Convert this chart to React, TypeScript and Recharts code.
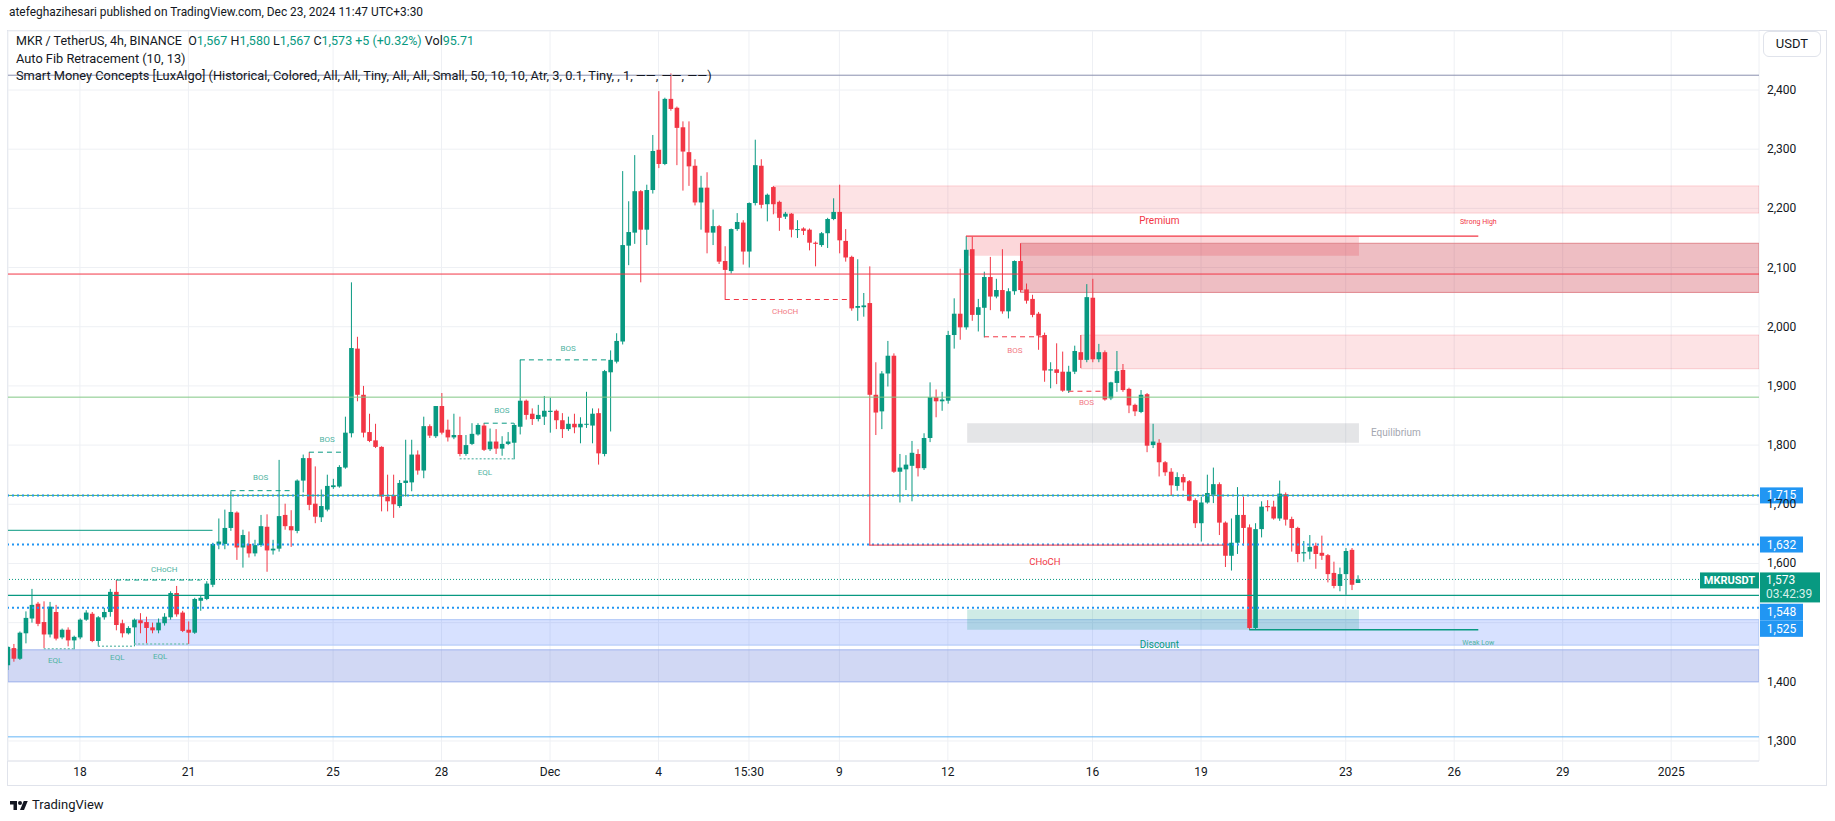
import React from 'react';
import { ComposedChart, Bar, XAxis, YAxis, CartesianGrid, ReferenceLine, ReferenceArea, ReferenceDot } from 'recharts';

const UP = '#089981';
const DOWN = '#f23645';
const FONT = 'Roboto, "Liberation Sans", sans-serif';

// MKR/USDT 4h bars, index 0 = Nov 16 03:30 (UTC+3:30)
const opens = [
  1428, 1457, 1439, 1482, 1507, 1532, 1501, 1480, 1518, 1475, 1488, 1470, 1475, 1505, 1515, 1469, 1509, 1518, 1552, 1499,
  1482, 1492, 1504, 1501, 1492, 1487, 1499, 1509, 1550, 1517, 1488, 1483, 1537, 1540, 1564, 1632, 1633, 1660, 1686, 1627,
  1633, 1617, 1631, 1662, 1622, 1625, 1682, 1663, 1655, 1740, 1778, 1701, 1678, 1691, 1729, 1730, 1762, 1820, 1963, 1885,
  1822, 1808, 1797, 1713, 1714, 1697, 1736, 1737, 1784, 1757, 1832, 1815, 1866, 1826, 1813, 1817, 1785, 1802, 1818, 1833,
  1793, 1806, 1794, 1802, 1804, 1831, 1875, 1853, 1844, 1848, 1856, 1858, 1842, 1827, 1836, 1830, 1835, 1833, 1854, 1785,
  1923, 1941, 1975, 2137, 2159, 2229, 2164, 2231, 2299, 2275, 2385, 2370, 2337, 2295, 2272, 2210, 2235, 2159, 2170, 2111,
  2094, 2165, 2176, 2127, 2209, 2272, 2207, 2236, 2211, 2186, 2191, 2164, 2166, 2164, 2142, 2138, 2158, 2182, 2194, 2145,
  2118, 2032, 2033, 2040, 1885, 1857, 1921, 1951, 1755, 1759, 1765, 1785, 1761, 1812, 1881, 1874, 1875, 1986, 2022, 1999,
  2131, 2020, 2032, 2084, 2051, 2062, 2026, 2060, 2111, 2063, 2047, 2022, 1986, 1926, 1928, 1924, 1892, 1924, 1957, 1944,
  2049, 1945, 1957, 1879, 1905, 1927, 1895, 1868, 1856, 1886, 1800, 1804, 1771, 1755, 1731, 1746, 1739, 1707, 1668, 1703,
  1716, 1734, 1669, 1613, 1635, 1682, 1661, 1491, 1658, 1697, 1696, 1676, 1717, 1675, 1660, 1617, 1620, 1630, 1618, 1614,
  1584, 1562, 1582, 1623, 1567,
];
const highs = [
  1460, 1464, 1485, 1519, 1557, 1535, 1536, 1535, 1530, 1490, 1492, 1478, 1507, 1521, 1518, 1511, 1525, 1557, 1572, 1505,
  1494, 1507, 1516, 1510, 1500, 1507, 1516, 1553, 1562, 1520, 1502, 1542, 1545, 1570, 1635, 1676, 1691, 1722, 1688, 1657,
  1654, 1640, 1682, 1683, 1640, 1775, 1701, 1690, 1742, 1784, 1788, 1764, 1725, 1750, 1743, 1766, 1848, 2075, 1983, 1900,
  1853, 1836, 1798, 1750, 1750, 1741, 1809, 1809, 1791, 1848, 1835, 1866, 1888, 1843, 1853, 1848, 1817, 1837, 1837, 1837,
  1828, 1827, 1815, 1822, 1837, 1944, 1877, 1862, 1868, 1883, 1880, 1860, 1854, 1848, 1853, 1847, 1890, 1862, 1862, 1927,
  1960, 1989, 2263, 2212, 2290, 2231, 2240, 2324, 2398, 2387, 2428, 2372, 2347, 2347, 2283, 2255, 2261, 2198, 2172, 2136,
  2166, 2192, 2180, 2210, 2316, 2283, 2225, 2238, 2213, 2194, 2192, 2180, 2168, 2166, 2144, 2160, 2184, 2217, 2240, 2165,
  2120, 2114, 2057, 2102, 1940, 1925, 1976, 1955, 1785, 1783, 1807, 1793, 1820, 1906, 1894, 1890, 1993, 2048, 2098, 2153,
  2152, 2047, 2093, 2118, 2081, 2131, 2065, 2112, 2141, 2073, 2054, 2025, 1990, 1940, 1972, 1958, 1934, 1968, 1986, 2072,
  2081, 1971, 1960, 1907, 1959, 1937, 1897, 1870, 1893, 1888, 1836, 1810, 1773, 1761, 1754, 1751, 1741, 1710, 1713, 1750,
  1762, 1737, 1671, 1676, 1729, 1713, 1666, 1668, 1705, 1707, 1706, 1740, 1720, 1679, 1662, 1638, 1648, 1635, 1647, 1616,
  1603, 1593, 1626, 1626, 1580,
];
const lows = [
  1420, 1434, 1437, 1465, 1500, 1494, 1457, 1475, 1470, 1472, 1460, 1455, 1472, 1503, 1467, 1460, 1505, 1510, 1487, 1475,
  1480, 1460, 1482, 1465, 1482, 1482, 1495, 1505, 1510, 1484, 1464, 1481, 1520, 1538, 1560, 1624, 1624, 1655, 1606, 1593,
  1610, 1612, 1628, 1586, 1615, 1620, 1657, 1628, 1651, 1720, 1690, 1668, 1670, 1688, 1726, 1728, 1760, 1813, 1874, 1813,
  1805, 1795, 1688, 1688, 1677, 1694, 1713, 1722, 1750, 1744, 1812, 1812, 1818, 1806, 1810, 1781, 1782, 1800, 1816, 1790,
  1790, 1785, 1782, 1800, 1776, 1818, 1843, 1834, 1840, 1834, 1821, 1827, 1812, 1824, 1820, 1803, 1829, 1803, 1767, 1781,
  1823, 1938, 1970, 2104, 2140, 2075, 2138, 2225, 2268, 2273, 2365, 2273, 2230, 2238, 2205, 2164, 2124, 2138, 2106, 2046,
  2090, 2162, 2105, 2100, 2205, 2200, 2178, 2190, 2162, 2182, 2151, 2150, 2155, 2129, 2102, 2135, 2133, 2180, 2124, 2110,
  2027, 2010, 2017, 1630, 1817, 1827, 1899, 1753, 1703, 1724, 1705, 1747, 1758, 1805, 1847, 1858, 1870, 1963, 1978, 1995,
  2010, 1992, 1982, 2028, 2048, 2022, 2014, 2054, 2058, 2039, 2016, 1961, 1907, 1896, 1903, 1890, 1888, 1920, 1930, 1940,
  1940, 1940, 1875, 1876, 1890, 1890, 1854, 1849, 1854, 1788, 1795, 1747, 1748, 1715, 1723, 1723, 1705, 1660, 1637, 1701,
  1702, 1648, 1594, 1588, 1616, 1630, 1488, 1489, 1644, 1688, 1674, 1672, 1664, 1620, 1602, 1603, 1607, 1591, 1606, 1568,
  1558, 1553, 1547, 1555, 1567,
];
const closes = [
  1459, 1439, 1483, 1508, 1530, 1498, 1480, 1527, 1473, 1488, 1470, 1476, 1505, 1517, 1469, 1509, 1518, 1552, 1496, 1482,
  1491, 1505, 1499, 1491, 1487, 1500, 1510, 1550, 1514, 1486, 1483, 1540, 1542, 1566, 1633, 1637, 1660, 1687, 1627, 1648,
  1617, 1631, 1663, 1622, 1625, 1680, 1663, 1656, 1740, 1778, 1699, 1679, 1697, 1731, 1732, 1763, 1821, 1964, 1885, 1821,
  1807, 1797, 1713, 1705, 1700, 1736, 1740, 1784, 1757, 1832, 1816, 1866, 1821, 1813, 1817, 1785, 1800, 1819, 1834, 1792,
  1806, 1794, 1802, 1806, 1834, 1875, 1851, 1844, 1851, 1858, 1858, 1842, 1827, 1836, 1830, 1836, 1836, 1853, 1786, 1925,
  1944, 1976, 2138, 2160, 2229, 2164, 2231, 2297, 2275, 2385, 2368, 2336, 2296, 2271, 2210, 2235, 2159, 2170, 2110, 2096,
  2165, 2177, 2127, 2209, 2273, 2206, 2223, 2207, 2184, 2191, 2164, 2165, 2162, 2142, 2140, 2158, 2182, 2194, 2146, 2117,
  2031, 2035, 2036, 1885, 1855, 1921, 1951, 1755, 1762, 1767, 1787, 1761, 1812, 1881, 1874, 1877, 1986, 2022, 1999, 2130,
  2020, 2033, 2084, 2051, 2062, 2026, 2060, 2111, 2062, 2044, 2020, 1985, 1926, 1928, 1922, 1892, 1924, 1959, 1944, 2050,
  1945, 1957, 1877, 1906, 1925, 1893, 1867, 1857, 1885, 1799, 1806, 1771, 1754, 1732, 1746, 1737, 1706, 1668, 1703, 1719,
  1734, 1669, 1613, 1635, 1682, 1660, 1491, 1658, 1696, 1695, 1676, 1718, 1674, 1660, 1616, 1619, 1628, 1616, 1613, 1582,
  1562, 1582, 1621, 1564, 1573,
];

const xTicks = [12, 30, 54, 72, 90, 108, 123, 138, 156, 180, 198, 222, 240, 258, 276];
const xTickLabels = ['18', '21', '25', '28', 'Dec', '4', '15:30', '9', '12', '16', '19', '23', '26', '29', '2025'];
const yTicks = [1300, 1400, 1500, 1600, 1700, 1800, 1900, 2000, 2100, 2200, 2300, 2400];
// labels covered by the price tags on the scale
const hiddenTicks = [1500];

const X_MIN = 0.07;
const X_MAX = 290.57;
const Y_MIN = 1266.2;
const Y_MAX = 2499.7;

// full-width levels (auto fib + price rays)
const fibLevels = [2425, 2089, 1881, 1715, 1307];
const fibColors = ['#8a8fae', '#f23645', '#81c784', '#4caf50', '#64b5f6'];
const rayLevels = [1715, 1632, 1525];
const lastPrice = 1573;
const prevSwingLevel = 1546;

// structure breaks
const bullBreaks = [
  { price: 1572, from: 18, to: 32 },
  { price: 1723, from: 37, to: 47 },
  { price: 1788, from: 50, to: 56 },
  { price: 1837, from: 79, to: 84 },
  { price: 1944, from: 85, to: 100 },
];
const bearBreaks = [
  { price: 2046, from: 119, to: 140 },
  { price: 1983, from: 162, to: 172 },
  { price: 1891, from: 176, to: 182 },
];
const eqlLines = [
  { price: 1456, from: 6, to: 11 },
  { price: 1460, from: 15, to: 21 },
  { price: 1464, from: 21, to: 30 },
  { price: 1777, from: 75, to: 84 },
];
const oldHighLine = { price: 1656, from: X_MIN, to: 34 };
const chochDown = { price: 1631, from: 143, to: 202 };
const strongHigh = { price: 2153, from: 159, to: 244 };
const weakLow = { price: 1488, from: 206, to: 244 };

// zones
const bearBlocks = [
  { x1: 127.2, x2: X_MAX, y1: 2192, y2: 2238 },
  { x1: 178.1, x2: X_MAX, y1: 1929, y2: 1986 },
];
const bearBlockStrong = { x1: 168.1, x2: X_MAX, y1: 2058, y2: 2141 };
const premiumZone = { x1: 159.2, x2: 224.2, y1: 2120, y2: 2153 };
const equilibriumZone = { x1: 159.2, x2: 224.2, y1: 1804, y2: 1837 };
const discountZone = { x1: 159.2, x2: 224.2, y1: 1488, y2: 1522 };
const blueZoneLight = { x1: 21.3, x2: X_MAX, y1: 1462, y2: 1505 };
const blueZoneDark = { x1: X_MIN, x2: X_MAX, y1: 1400, y2: 1454 };

// text notes
const bullNotes = [
  { t: 'CHoCH', i: 26, p: 1590 },
  { t: 'BOS', i: 42, p: 1745 },
  { t: 'BOS', i: 53, p: 1810 },
  { t: 'BOS', i: 82, p: 1859 },
  { t: 'BOS', i: 93, p: 1964 },
  { t: 'EQL', i: 7.9, p: 1436 },
  { t: 'EQL', i: 18.2, p: 1441 },
  { t: 'EQL', i: 25.3, p: 1443 },
  { t: 'EQL', i: 79.2, p: 1755 },
];
const bearNotes = [
  { t: 'CHoCH', i: 129, p: 2027 },
  { t: 'BOS', i: 167.1, p: 1961 },
  { t: 'BOS', i: 179, p: 1872 },
];

const candles = opens.map((o, i) => ({
  i,
  o,
  h: highs[i],
  l: lows[i],
  c: closes[i],
  range: [lows[i], highs[i]],
}));

const Candle = (props: any) => {
  const { x, y, width, height, payload } = props;
  if (!payload) return null;
  const { o, h, l, c } = payload;
  const color = c >= o ? UP : DOWN;
  const top = Math.min(y, y + height);
  const hh = Math.abs(height);
  const k = hh / Math.max(h - l, 0.0001);
  const bTop = top + (h - Math.max(o, c)) * k;
  const bBot = top + (h - Math.min(o, c)) * k;
  const cx = x + width / 2;
  return (
    <g>
      <line x1={cx} x2={cx} y1={top} y2={top + hh} stroke={color} strokeWidth={1} />
      <rect x={x} y={bTop} width={width} height={Math.max(1, bBot - bTop)} fill={color} />
    </g>
  );
};

const XTick = (props: any) => {
  const { x, payload } = props;
  const idx = xTicks.indexOf(payload.value);
  return (
    <text x={x} y={776} textAnchor="middle" fontSize={12} fill="#131722" fontFamily={FONT}>
      {idx >= 0 ? xTickLabels[idx] : ''}
    </text>
  );
};

const YTick = (props: any) => {
  const { y, payload } = props;
  if (hiddenTicks.includes(payload.value)) return null;
  return (
    <text x={1767} y={y + 4} fontSize={12} fill="#131722" fontFamily={FONT}>
      {payload.value.toLocaleString('en-US')}
    </text>
  );
};

const blueTag = (text: string, shift: number, h: number = 16) => (props: any) => {
  const vb = props.viewBox;
  if (!vb) return null;
  const x0 = vb.x + vb.width + 1;
  const yy = vb.y + shift;
  return (
    <g>
      <rect x={x0} y={yy - 8} width={43} height={h} fill="#2196f3" />
      <text x={x0 + 21.5} y={yy + 4} fontSize={12} fill="#fff" textAnchor="middle" fontFamily={FONT}>
        {text}
      </text>
    </g>
  );
};

const lastTag = (props: any) => {
  const vb = props.viewBox;
  if (!vb) return null;
  const x0 = vb.x + vb.width + 1;
  const yy = vb.y;
  return (
    <g>
      <rect x={x0 - 60} y={yy - 7} width={59} height={16} fill={UP} />
      <text x={x0 - 30.5} y={yy + 5} fontSize={11} fontWeight={700} fill="#fff" textAnchor="middle" fontFamily={FONT}>
        MKRUSDT
      </text>
      <rect x={x0} y={yy - 7} width={60} height={30} fill={UP} />
      <text x={x0 + 6} y={yy + 5} fontSize={12} fill="#fff" fontFamily={FONT}>
        {lastPrice.toLocaleString('en-US')}
      </text>
      <text x={x0 + 6} y={yy + 19} fontSize={12} fill="#d6f0ea" fontFamily={FONT}>
        03:42:39
      </text>
    </g>
  );
};

const note = (text: string, color: string, size: number, anchor: string = 'middle') => (props: any) => {
  const vb = props.viewBox;
  if (!vb) return null;
  const cx = vb.x + (vb.width || 0) / 2;
  const cy = vb.y + (vb.height || 0) / 2;
  return (
    <text x={cx} y={cy + size * 0.35} fontSize={size} fill={color} textAnchor={anchor} fontFamily={FONT}>
      {text}
    </text>
  );
};

const TvLogo = () => (
  <svg width="18" height="11" viewBox="0 0 36 22">
    <path d="M14 22H7V11H0V4h14v18Z" fill="#131722" />
    <circle cx="20" cy="8" r="4" fill="#131722" />
    <path d="M28 22h-8l7.5-18h8L28 22Z" fill="#131722" />
  </svg>
);

const App: React.FC = () => {
  const seg = (s: { price: number; from: number; to: number }) =>
    [{ x: s.from, y: s.price }, { x: s.to, y: s.price }] as any;

  return (
    <div style={{ position: 'absolute', left: 0, top: 0, width: 1835, height: 821, background: '#fff', fontFamily: FONT, color: '#131722', overflow: 'hidden' }}>
      <div style={{ position: 'absolute', left: 9, top: 5, fontSize: 11.9 }}>
        atefeghazihesari published on TradingView.com, Dec 23, 2024 11:47 UTC+3:30
      </div>

      <div style={{ position: 'absolute', left: 7, top: 30, width: 1818, height: 754, border: '1px solid #e0e3eb' }} />

      <div style={{ position: 'absolute', left: 0, top: 0 }}>
        <ComposedChart width={1835} height={821} data={candles} margin={{ top: 31, right: 10, bottom: 36, left: 8 }}>
          <CartesianGrid stroke="#eef0f4" />
          <XAxis
            dataKey="i"
            type="number"
            domain={[X_MIN, X_MAX]}
            ticks={xTicks}
            allowDataOverflow
            height={24}
            tickLine={false}
            axisLine={{ stroke: '#e0e3eb' }}
            tick={<XTick />}
            interval={0}
          />
          <YAxis
            orientation="right"
            type="number"
            domain={[Y_MIN, Y_MAX]}
            ticks={yTicks}
            allowDataOverflow
            width={66}
            tickLine={false}
            axisLine={false}
            tick={<YTick />}
            interval={0}
          />

          <ReferenceArea x1={blueZoneDark.x1} x2={blueZoneDark.x2} y1={blueZoneDark.y1} y2={blueZoneDark.y2} fill="rgb(63,90,210)" fillOpacity={0.24} stroke="#9fb3ee" ifOverflow="hidden" />
          <ReferenceArea x1={blueZoneLight.x1} x2={blueZoneLight.x2} y1={blueZoneLight.y1} y2={blueZoneLight.y2} fill="rgb(41,98,255)" fillOpacity={0.19} stroke="#adc6f7" ifOverflow="hidden" />
          {bearBlocks.map((z, k) => (
            <ReferenceArea key={`bb${k}`} x1={z.x1} x2={z.x2} y1={z.y1} y2={z.y2} fill={DOWN} fillOpacity={0.14} stroke={DOWN} strokeOpacity={0.2} ifOverflow="hidden" />
          ))}
          <ReferenceArea x1={premiumZone.x1} x2={premiumZone.x2} y1={premiumZone.y1} y2={premiumZone.y2} fill={DOWN} fillOpacity={0.2} ifOverflow="hidden" />
          <ReferenceArea x1={bearBlockStrong.x1} x2={bearBlockStrong.x2} y1={bearBlockStrong.y1} y2={bearBlockStrong.y2} fill="rgb(200,40,55)" fillOpacity={0.3} stroke="#e0868d" ifOverflow="hidden" />
          <ReferenceArea x1={equilibriumZone.x1} x2={equilibriumZone.x2} y1={equilibriumZone.y1} y2={equilibriumZone.y2} fill="#787b86" fillOpacity={0.2} ifOverflow="hidden" />
          <ReferenceArea x1={discountZone.x1} x2={discountZone.x2} y1={discountZone.y1} y2={discountZone.y2} fill={UP} fillOpacity={0.2} ifOverflow="hidden" />

          {fibLevels.map((p, k) => (
            <ReferenceLine key={`fib${k}`} y={p} stroke={fibColors[k]} strokeWidth={1} />
          ))}
          <ReferenceLine y={prevSwingLevel} stroke={UP} strokeWidth={1.2} />
          <ReferenceLine y={rayLevels[0]} stroke="#2196f3" strokeWidth={2} strokeDasharray="2 3" label={{ content: blueTag('1,715', 0) }} />
          <ReferenceLine y={rayLevels[1]} stroke="#2196f3" strokeWidth={2} strokeDasharray="2 3" label={{ content: blueTag('1,632', 0) }} />
          <ReferenceLine y={rayLevels[2]} stroke="#2196f3" strokeWidth={2} strokeDasharray="2 3" label={{ content: blueTag('1,525', 21) }} />
          <ReferenceLine y={1548} stroke="transparent" label={{ content: blueTag('1,548', 17.5, 17) }} />
          <ReferenceLine y={lastPrice} stroke={UP} strokeWidth={1} strokeDasharray="1 2" label={{ content: lastTag }} />

          <ReferenceLine segment={seg(oldHighLine)} stroke={UP} strokeWidth={1} ifOverflow="hidden" />
          {bullBreaks.map((s, k) => (
            <ReferenceLine key={`bu${k}`} segment={seg(s)} stroke={UP} strokeDasharray="5 4" strokeWidth={1} />
          ))}
          {bearBreaks.map((s, k) => (
            <ReferenceLine key={`be${k}`} segment={seg(s)} stroke={DOWN} strokeDasharray="5 4" strokeWidth={1} />
          ))}
          {eqlLines.map((s, k) => (
            <ReferenceLine key={`eq${k}`} segment={seg(s)} stroke="#7cc5b9" strokeDasharray="2 2" strokeWidth={1.5} />
          ))}
          <ReferenceLine segment={seg(chochDown)} stroke={DOWN} strokeWidth={1} />
          <ReferenceLine segment={seg(strongHigh)} stroke={DOWN} strokeWidth={1.3} />
          <ReferenceLine segment={seg(weakLow)} stroke={UP} strokeWidth={1.3} />

          <Bar dataKey="range" shape={<Candle />} barSize={4.6} isAnimationActive={false} />

          {bullNotes.map((n, k) => (
            <ReferenceDot key={`bn${k}`} x={n.i} y={n.p} r={0} stroke="none" label={{ content: note(n.t, '#4fb3a2', 8) }} />
          ))}
          {bearNotes.map((n, k) => (
            <ReferenceDot key={`rn${k}`} x={n.i} y={n.p} r={0} stroke="none" label={{ content: note(n.t, '#f27a84', 8) }} />
          ))}
          <ReferenceDot x={172.1} y={1603} r={0} stroke="none" label={{ content: note('CHoCH', DOWN, 9.5) }} />
          <ReferenceDot x={191.1} y={2180} r={0} stroke="none" label={{ content: note('Premium', DOWN, 10) }} />
          <ReferenceDot x={226.2} y={1821} r={0} stroke="none" label={{ content: note('Equilibrium', '#a3a6af', 10, 'start') }} />
          <ReferenceDot x={191.1} y={1463} r={0} stroke="none" label={{ content: note('Discount', UP, 10) }} />
          <ReferenceDot x={244} y={2177} r={0} stroke="none" label={{ content: note('Strong High', DOWN, 7) }} />
          <ReferenceDot x={244} y={1467} r={0} stroke="none" label={{ content: note('Weak Low', '#4fb3a2', 7) }} />
        </ComposedChart>
      </div>

      <div style={{ position: 'absolute', left: 16, top: 32, fontSize: 12.8, lineHeight: '17.5px', whiteSpace: 'pre' }}>
        <div style={{ fontSize: 12.5 }}>
          {'MKR / TetherUS, 4h, BINANCE  O'}
          <span style={{ color: UP }}>1,567</span>
          {' H'}
          <span style={{ color: UP }}>1,580</span>
          {' L'}
          <span style={{ color: UP }}>1,567</span>
          {' C'}
          <span style={{ color: UP }}>1,573</span>
          <span style={{ color: UP }}>{' +5 (+0.32%)'}</span>
          {' Vol'}
          <span style={{ color: UP }}>95.71</span>
        </div>
        <div>Auto Fib Retracement (10, 13)</div>
        <div>Smart Money Concepts [LuxAlgo] (Historical, Colored, All, All, Tiny, All, All, Small, 50, 10, 10, Atr, 3, 0.1, Tiny, , 1, ——, ——, ——)</div>
      </div>

      <div style={{ position: 'absolute', left: 1763, top: 31, width: 56, height: 24, border: '1px solid #e0e3eb', borderRadius: 6, fontSize: 13, lineHeight: '24px', textAlign: 'center', background: '#fff' }}>
        USDT
      </div>

      <div style={{ position: 'absolute', left: 10, top: 797, display: 'flex', alignItems: 'center', gap: 4, fontSize: 13 }}>
        <TvLogo />
        <span>TradingView</span>
      </div>
    </div>
  );
};

export default App;
